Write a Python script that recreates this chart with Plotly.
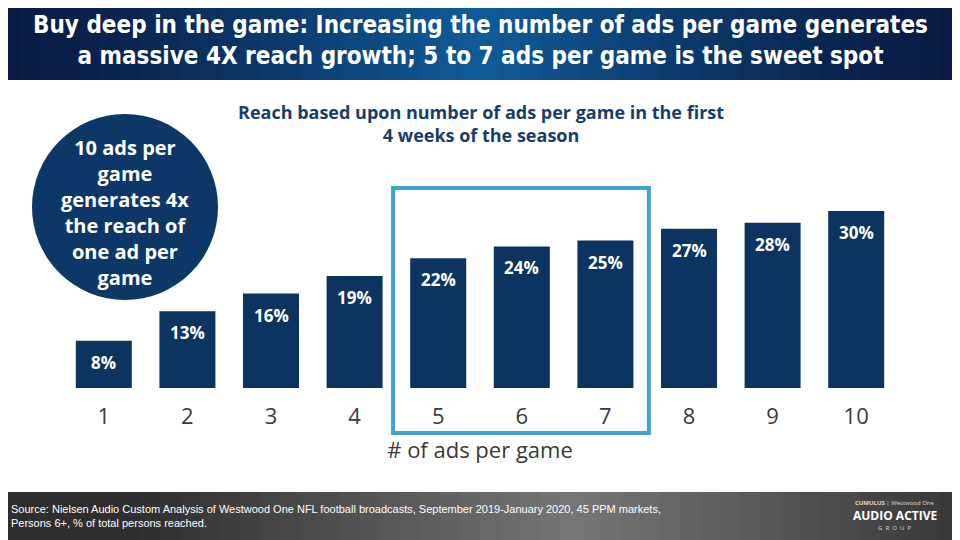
import plotly.graph_objects as go

# data
ads_per_game = ["1", "2", "3", "4", "5", "6", "7", "8", "9", "10"]
reach_pct = [8, 13, 16, 19, 22, 24, 25, 27, 28, 30]
reach_labels = [f"{v}%" for v in reach_pct]
sweet_spot = ["5", "7"]

title_text = ("Buy deep in the game: Increasing the number of ads per game generates<br>"
              "a massive 4X reach growth; 5 to 7 ads per game is the sweet spot")
chart_title = "Reach based upon number of ads per game in the first<br>4 weeks of the season"
circle_text = "10 ads per<br>game<br>generates 4x<br>the reach of<br>one ad per<br>game"
source_text = ("Source: Nielsen Audio Custom Analysis of Westwood One NFL football broadcasts, "
               "September 2019-January 2020, 45 PPM markets,<br>Persons 6+, % of total persons reached.")

W, H = 960, 540
OX, OY = 8, 8  # page offset of the figure in the browser window
ML, MR, MT, MB = 54, 70, 144, 160
PW, PH = W - ML - MR, H - MT - MB

NAVY = "#0b3461"
BOX_BLUE = "#3fa3d4"
GREY_TXT = "#3a3a3a"
BODY_FONT = "Open Sans, Lato, sans-serif"


def px_x(px):
    # screen pixel -> paper x
    return (px - OX - ML) / PW


def px_y(py):
    # screen pixel -> paper y
    return (H - MB - (py - OY)) / PH


def mix(c1, c2, t):
    a = [int(c1[i:i + 2], 16) for i in (1, 3, 5)]
    b = [int(c2[i:i + 2], 16) for i in (1, 3, 5)]
    return "#" + "".join(f"{round(a[i] + (b[i] - a[i]) * t):02x}" for i in range(3))


fig = go.Figure()
fig.add_trace(go.Bar(
    x=ads_per_game, y=reach_pct,
    marker=dict(color=NAVY, line=dict(width=0)),
    width=0.67, hoverinfo="skip",
))

shapes = []
# header band: dark edges, lighter blue centre
n = 48
for i in range(n):
    t = 1 - abs((i + 0.5) / n - 0.5) * 2
    shapes.append(dict(type="rect", xref="paper", yref="paper", layer="below",
                       x0=px_x(i * W / n), x1=px_x((i + 1) * W / n + 0.5),
                       y0=px_y(80), y1=px_y(0),
                       fillcolor=mix("#081a42", "#0f5c98", t ** 1.3), line=dict(width=0)))
# footer band: dark grey with lighter middle
for i in range(n):
    c = (i + 0.5) / n
    t = max(0, 1 - abs(c - 0.6) * 2.2)
    shapes.append(dict(type="rect", xref="paper", yref="paper", layer="below",
                       x0=px_x(i * W / n), x1=px_x((i + 1) * W / n + 0.5),
                       y0=px_y(548), y1=px_y(492),
                       fillcolor=mix("#2e2e2e", "#767676", t), line=dict(width=0)))
# circle callout
shapes.append(dict(type="circle", xref="paper", yref="paper",
                   x0=px_x(32), x1=px_x(218), y0=px_y(300), y1=px_y(114),
                   fillcolor="#0d3766", line=dict(width=0)))
# sweet spot box around bars 5 to 7
shapes.append(dict(type="rect", xref="x", yref="paper",
                   x0=ads_per_game.index(sweet_spot[0]) - 0.54,
                   x1=ads_per_game.index(sweet_spot[1]) + 0.52,
                   y0=px_y(433), y1=px_y(188),
                   line=dict(color=BOX_BLUE, width=4)))

annotations = [
    dict(text=title_text, x=px_x(480), y=px_y(41), xref="paper", yref="paper", showarrow=False,
         xanchor="center", yanchor="middle",
         font=dict(family="DejaVu Sans Condensed, Liberation Sans Narrow, sans-serif",
                   size=24, color="white", weight="bold")),
    dict(text=chart_title, x=px_x(481), y=px_y(123), xref="paper", yref="paper", showarrow=False,
         xanchor="center", yanchor="middle",
         font=dict(family=BODY_FONT, size=18, color="#173e6b", weight="bold")),
    dict(text=circle_text, x=px_x(125), y=px_y(212), xref="paper", yref="paper", showarrow=False,
         xanchor="center", yanchor="middle",
         font=dict(family=BODY_FONT, size=20, color="white", weight="bold")),
    dict(text=source_text, x=px_x(9), y=px_y(516), xref="paper", yref="paper", showarrow=False,
         xanchor="left", yanchor="middle", align="left",
         font=dict(family="Liberation Sans, sans-serif", size=11, color="white")),
    dict(text="<b>CUMULUS</b> | Westwood One", x=px_x(895), y=px_y(503), xref="paper", yref="paper",
         showarrow=False, xanchor="center", yanchor="middle",
         font=dict(family=BODY_FONT, size=6, color="#dddddd")),
    dict(text="<b>AUDIO ACTIVE</b>", x=px_x(895), y=px_y(515), xref="paper", yref="paper",
         showarrow=False, xanchor="center", yanchor="middle",
         font=dict(family=BODY_FONT, size=12, color="white")),
    dict(text="G  R  O  U  P", x=px_x(895), y=px_y(528), xref="paper", yref="paper",
         showarrow=False, xanchor="center", yanchor="middle",
         font=dict(family=BODY_FONT, size=6, color="#dddddd")),
]
# value labels inside the top of each bar
for i, (val, lab) in enumerate(zip(reach_pct, reach_labels)):
    annotations.append(dict(x=i, y=val, text=lab, xref="x", yref="y", showarrow=False,
                            yanchor="top", yshift=-8,
                            font=dict(family=BODY_FONT, size=17, color="white", weight="bold")))

fig.update_layout(
    width=W, height=H,
    margin=dict(l=ML, r=MR, t=MT, b=MB, autoexpand=False),
    paper_bgcolor="white", plot_bgcolor="white",
    showlegend=False, bargap=0.33,
    shapes=shapes, annotations=annotations,
    xaxis=dict(type="category", range=[-0.5, len(ads_per_game) - 0.5],
               showgrid=False, showline=False, zeroline=False, ticks="",
               ticklabelstandoff=13,
               tickfont=dict(family=BODY_FONT, size=22, color=GREY_TXT),
               title=dict(text="# of ads per game", standoff=13,
                          font=dict(family=BODY_FONT, size=22, color=GREY_TXT))),
    yaxis=dict(range=[0, 40], visible=False, fixedrange=True),
)

fig.write_html("out.html")
